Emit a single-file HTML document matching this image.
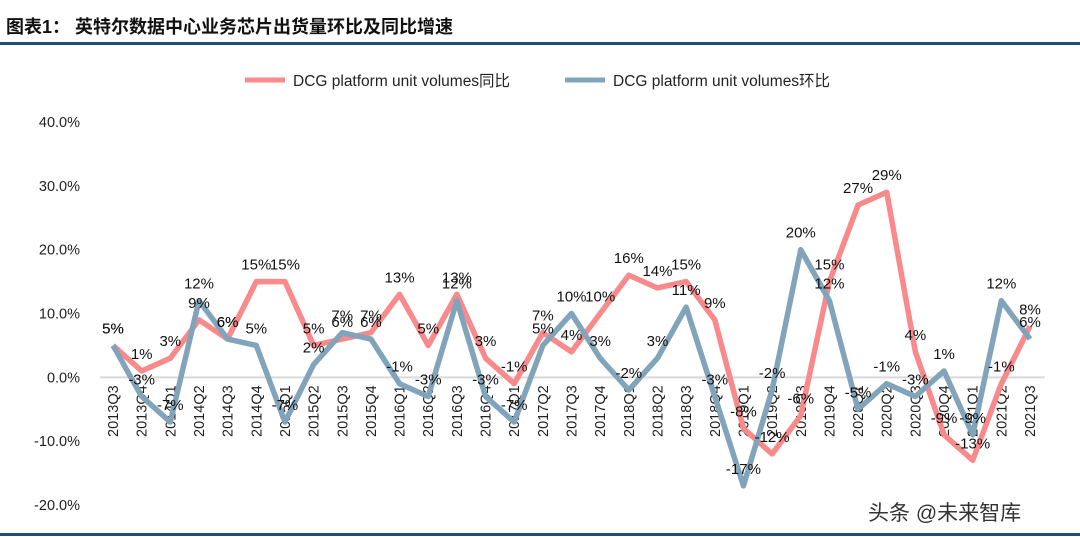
<!DOCTYPE html>
<html><head><meta charset="utf-8">
<style>
body{margin:0;background:#fff;}
svg{display:block;font-family:"Liberation Sans","Noto Sans CJK SC",sans-serif;}
</style></head>
<body>
<svg id="c" width="1080" height="537">
<text x="6" y="33" font-size="18" font-weight="bold" fill="#111">图表1：  英特尔数据中心业务芯片出货量环比及同比增速</text>
<rect x="0" y="42" width="1080" height="3" fill="#1f4e79"/>
<rect x="0" y="533" width="1080" height="3" fill="#1f4e79"/>
<g>
<line x1="245" y1="80" x2="285" y2="80" stroke="#f88a8c" stroke-width="5"/>
<text x="293" y="86" font-size="15.5" fill="#222">DCG platform unit volumes同比</text>
<line x1="565" y1="80" x2="605" y2="80" stroke="#82a4bb" stroke-width="5"/>
<text x="613" y="86" font-size="15.5" fill="#222">DCG platform unit volumes环比</text>
</g>
<g id="plot"></g>
<text x="868" y="520" font-size="21" fill="#333">头条 @未来智库</text>
</svg>
<script>
const categories=["2013Q3","2013Q4","2014Q1","2014Q2","2014Q3","2014Q4","2015Q1","2015Q2","2015Q3","2015Q4","2016Q1","2016Q2","2016Q3","2016Q4","2017Q1","2017Q2","2017Q3","2017Q4","2018Q1","2018Q2","2018Q3","2018Q4","2019Q1","2019Q2","2019Q3","2019Q4","2020Q1","2020Q2","2020Q3","2020Q4","2021Q1","2021Q2","2021Q3"];
const yoyValues=[5,1,3,9,6,15,15,5,6,7,13,5,13,3,-1,7,4,10,16,14,15,9,-8,-12,-6,15,27,29,4,-9,-13,-1,8];
const qoqValues=[5,-3,-7,12,6,5,-7,2,7,6,-1,-3,12,-3,-7,5,10,3,-2,3,11,-3,-17,-2,20,12,-5,-1,-3,1,-9,12,6];
const yTicks=[40,30,20,10,0,-10,-20];
const NS="http://www.w3.org/2000/svg";
const g=document.getElementById('plot');
const x0=113,x1=1030,yTop=122,yBot=505,vMax=40,vMin=-20;
const xs=i=>x0+i*(x1-x0)/(categories.length-1);
const ys=v=>yTop+(vMax-v)*(yBot-yTop)/(vMax-vMin);
function el(t,a){const e=document.createElementNS(NS,t);for(const k in a)e.setAttribute(k,a[k]);g.appendChild(e);return e;}
yTicks.forEach(v=>{
 const t=el('text',{x:80,y:ys(v)+5,'text-anchor':'end','font-size':14.5,fill:'#222'});
 
 
 t.textContent=v.toFixed(1)+'%';
});
const ax=el('line',{x1:100,y1:ys(0),x2:1045,y2:ys(0),stroke:'#d9d9d9','stroke-width':2});


categories.forEach((c,i)=>{
 const t=el('text',{x:0,y:0,'font-size':14.5,fill:'#222','text-anchor':'end',transform:`translate(${xs(i)+5},${ys(0)+8}) rotate(-90)`});
 
 
 t.textContent=c;
});
function series(vals,color,name){
 const p=el('polyline',{points:vals.map((v,i)=>xs(i)+','+ys(v)).join(' '),fill:'none',stroke:color,'stroke-width':5.5,'stroke-linejoin':'round'});
 
 
}
series(yoyValues,'#f88a8c','yoy');
series(qoqValues,'#82a4bb','qoq');
function labels(vals,name){
 vals.forEach((v,i)=>{
  const t=el('text',{x:xs(i),y:ys(v)-12,'text-anchor':'middle','font-size':15,fill:'#111'});
  
  
  t.textContent=v+'%';
 });
}
labels(yoyValues,'yoy');
labels(qoqValues,'qoq');
</script>
</body></html>
